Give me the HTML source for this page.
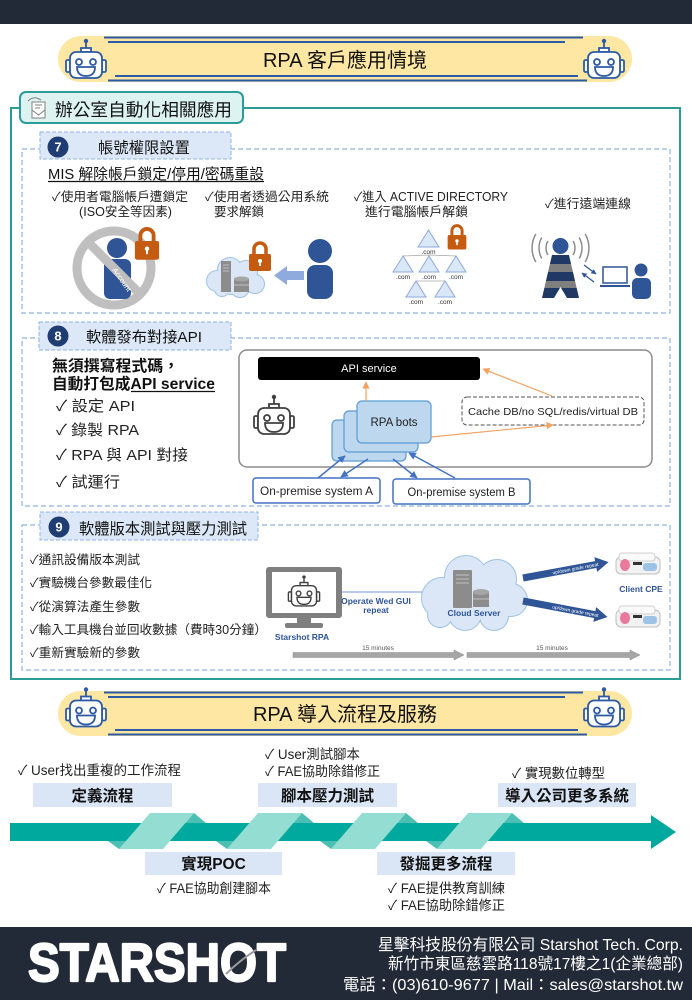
<!DOCTYPE html>
<html><head><meta charset="utf-8"><style>
html,body{margin:0;padding:0;background:#fff;}
svg{display:block;}
text{font-family:"Liberation Sans","Noto Sans CJK TC","DejaVu Sans",sans-serif;}
</style></head><body>
<svg xmlns="http://www.w3.org/2000/svg" xmlns:xlink="http://www.w3.org/1999/xlink" width="692" height="1000" viewBox="0 0 692 1000">
<defs>
<g id="robot" fill="none" stroke="currentColor" stroke-width="1.8">
 <line x1="0" y1="-16" x2="0" y2="-21"/>
 <circle cx="0" cy="-23" r="2.2" fill="currentColor" stroke="none"/>
 <rect x="-5" y="-16" width="10" height="4" fill="#fff"/>
 <rect x="-20" y="-4" width="4" height="12" rx="1.5" fill="#fff"/>
 <rect x="16" y="-4" width="4" height="12" rx="1.5" fill="#fff"/>
 <rect x="-16" y="-12" width="32" height="26" rx="6" fill="#fff"/>
 <circle cx="-7" cy="-2" r="3"/>
 <circle cx="7" cy="-2" r="3"/>
 <path d="M-9,3 H9 Q9,12 0,12 Q-9,12 -9,3Z" fill="#fff"/>
</g>
<g id="lock">
 <path d="M-6,1 V-5 A6,6 0 0 1 6,-5 V1" fill="none" stroke="#c55a11" stroke-width="3.5"/>
 <rect x="-11" y="0" width="22" height="17" rx="2" fill="#c55a11"/>
 <circle cx="0" cy="7" r="2" fill="#fff"/>
 <rect x="-0.9" y="7" width="1.8" height="5" fill="#fff"/>
</g>
<g id="cpe">
 <rect x="1" y="4" width="44" height="17" rx="5" fill="#f2f2f2" stroke="#bfbfbf"/>
 <rect x="4" y="0" width="36" height="8" rx="3" fill="#fafafa" stroke="#d0d0d0"/>
 <ellipse cx="10" cy="12" rx="5" ry="6" fill="#e9799d"/>
 <rect x="28" y="10" width="14" height="8" rx="3" fill="#9dc3e6"/>
 <rect x="18" y="9" width="9" height="3" fill="#333"/>
</g>
<marker id="ao" viewBox="0 0 10 10" refX="9" refY="5" markerWidth="6" markerHeight="6" orient="auto"><path d="M0,0 L10,5 L0,10z" fill="#f4a261"/></marker>
<marker id="ab" viewBox="0 0 10 10" refX="9" refY="5" markerWidth="5" markerHeight="5" orient="auto"><path d="M0,0 L10,5 L0,10z" fill="#4472c4"/></marker>
<marker id="an" viewBox="0 0 10 10" refX="9" refY="5" markerWidth="4" markerHeight="4" orient="auto"><path d="M0,0 L10,5 L0,10z" fill="#2f5597"/></marker>
<clipPath id="tw"><polygon points="552,255 569,255 579,298 542,298"/></clipPath>
</defs>

<rect x="0" y="0" width="692" height="24" fill="#232a37"/>

<rect x="58" y="36" width="574" height="46" rx="23" fill="#fde7a2"/>
<g stroke="#2d5aa5" stroke-width="2">
 <line x1="104" y1="37.5" x2="583" y2="37.5"/>
 <line x1="108" y1="42" x2="565" y2="42"/>
 <line x1="115" y1="76" x2="578" y2="76"/>
 <line x1="108" y1="80.5" x2="587" y2="80.5"/>
</g>
<use xlink:href="#robot" href="#robot" transform="translate(86,64)" style="color:#2d5aa5"/>
<use xlink:href="#robot" href="#robot" transform="translate(604,64)" style="color:#2d5aa5"/>
<text x="345" y="67" text-anchor="middle" font-size="20" fill="#111">RPA 客戶應用情境</text>

<rect x="11" y="108" width="669" height="571" fill="none" stroke="#2b9c96" stroke-width="2"/>
<rect x="20" y="92" width="223" height="31" rx="6" fill="#dcf3f2" stroke="#2b9c96" stroke-width="2"/>
<g fill="none" stroke="#7f7f7f" stroke-width="1">
 <rect x="32" y="102" width="13" height="16" fill="#fff"/>
 <path d="M32,110 L38.5,115 L45,110"/>
 <path d="M28,101 q4,-4 9,-3 l4,2" />
 <path d="M35,105 h7 M35,108 h5"/>
</g>
<text x="55" y="116" font-size="17.5" fill="#111" textLength="177" lengthAdjust="spacingAndGlyphs">辦公室自動化相關應用</text>

<rect x="22" y="149" width="648" height="164" fill="none" stroke="#8db4e3" stroke-width="1.2" stroke-dasharray="5 3"/>
<rect x="40" y="132" width="191" height="27" fill="#dce8f7" stroke="#8db4e3" stroke-dasharray="4 2"/>
<circle cx="58" cy="147" r="10.5" fill="#1f3c73"/>
<text x="58" y="151.5" text-anchor="middle" font-size="13" font-weight="bold" fill="#fff">7</text>
<text x="98" y="153" font-size="15.3" fill="#111" textLength="92" lengthAdjust="spacingAndGlyphs">帳號權限設置</text>

<text x="48" y="179" font-size="15" fill="#111" textLength="216" lengthAdjust="spacingAndGlyphs">MIS 解除帳戶鎖定/停用/密碼重設</text>
<line x1="48" y1="181.5" x2="264" y2="181.5" stroke="#111" stroke-width="1.2"/>

<g font-size="12.5" fill="#222">
 <text x="52" y="201" textLength="136" lengthAdjust="spacingAndGlyphs">✓使用者電腦帳戶遭鎖定</text>
 <text x="79" y="216" textLength="93" lengthAdjust="spacingAndGlyphs">(ISO安全等因素)</text>
 <text x="205" y="201" textLength="124" lengthAdjust="spacingAndGlyphs">✓使用者透過公用系統</text>
 <text x="214" y="216">要求解鎖</text>
 <text x="354" y="201" textLength="154" lengthAdjust="spacingAndGlyphs">✓進入 ACTIVE DIRECTORY</text>
 <text x="365" y="216" textLength="103" lengthAdjust="spacingAndGlyphs">進行電腦帳戶解鎖</text>
 <text x="545" y="208" textLength="86" lengthAdjust="spacingAndGlyphs">✓進行遠端連線</text>
</g>

<circle cx="114" cy="268" r="37" fill="none" stroke="#bfbfbf" stroke-width="9"/>
<circle cx="117" cy="248" r="10" fill="#2f5597"/>
<rect x="104" y="259" width="27" height="40" rx="6" fill="#2f5597"/>
<line x1="88" y1="242" x2="140" y2="294" stroke="#bfbfbf" stroke-width="9"/>
<text transform="translate(112,270) rotate(55)" font-size="7.5" fill="#fff">Account</text>
<use xlink:href="#lock" href="#lock" transform="translate(147,241) scale(1.1)"/>

<g fill="#dbe7f6" stroke="#9dc3e6" stroke-width="2">
 <circle cx="217" cy="281" r="10"/><circle cx="230" cy="270" r="12"/><circle cx="246" cy="272" r="11"/>
 <circle cx="255" cy="284" r="9"/><circle cx="240" cy="288" r="9"/><circle cx="222" cy="289" r="7"/><circle cx="232" cy="282" r="12"/>
</g>
<g fill="#dbe7f6">
 <circle cx="217" cy="281" r="10"/><circle cx="230" cy="270" r="12"/><circle cx="246" cy="272" r="11"/>
 <circle cx="255" cy="284" r="9"/><circle cx="240" cy="288" r="9"/><circle cx="222" cy="289" r="7"/><circle cx="232" cy="282" r="12"/>
</g>
<rect x="221" y="261" width="10" height="31" fill="#8c8c8c"/>
<g stroke="#bfbfbf" stroke-width="1"><line x1="223" y1="265" x2="229" y2="265"/><line x1="223" y1="268" x2="229" y2="268"/><line x1="223" y1="271" x2="229" y2="271"/></g>
<rect x="234" y="279" width="15" height="13" fill="#8c8c8c"/>
<ellipse cx="241.5" cy="279" rx="7.5" ry="2.5" fill="#a6a6a6"/>
<line x1="234" y1="285" x2="249" y2="285" stroke="#bfbfbf"/>
<use xlink:href="#lock" href="#lock" transform="translate(260,254)"/>
<polygon points="304,271 287,271 287,266 274,275.5 287,285 287,280 304,280" fill="#8faadc"/>
<circle cx="320" cy="251" r="12" fill="#2f5597"/>
<rect x="307" y="265" width="26" height="34" rx="8" fill="#2f5597"/>

<g stroke="#a6a6a6" stroke-width="0.8" fill="none">
 <path d="M428.5,255 L403,256 M428.5,255 L429,256 M428.5,255 L456,256"/>
 <path d="M429,281 L416,281 M429,281 L445,281"/>
</g>
<g fill="#dae7f6" stroke="#8faadc" stroke-width="1">
 <polygon points="428.5,230 418,247 439,247"/>
 <polygon points="403,256 393,272 413,272"/>
 <polygon points="429,256 419,272 439,272"/>
 <polygon points="456,256 446,272 466,272"/>
 <polygon points="416,281 406,297 426,297"/>
 <polygon points="445,281 435,297 455,297"/>
</g>
<g font-size="6.5" fill="#333" text-anchor="middle">
 <text x="428.5" y="254">.com</text>
 <text x="403" y="279">.com</text><text x="429" y="279">.com</text><text x="456" y="279">.com</text>
 <text x="416" y="304">.com</text><text x="445" y="304">.com</text>
</g>
<use xlink:href="#lock" href="#lock" transform="translate(457,235) scale(0.85)"/>

<g fill="none" stroke="#8c8c8c" stroke-width="1.5">
 <path d="M547.9,241 A14,14 0 0 0 547.9,255"/>
 <path d="M541.8,237.5 A21,21 0 0 0 541.8,258.5"/>
 <path d="M535.8,234 A28,28 0 0 0 535.8,262"/>
 <path d="M573.1,241 A14,14 0 0 1 573.1,255"/>
 <path d="M579.2,237.5 A21,21 0 0 1 579.2,258.5"/>
 <path d="M585.2,234 A28,28 0 0 1 585.2,262"/>
</g>
<g clip-path="url(#tw)">
 <rect x="540" y="255" width="42" height="9" fill="#203864"/>
 <rect x="540" y="264" width="42" height="8" fill="#7f7f7f"/>
 <rect x="540" y="272" width="42" height="9" fill="#203864"/>
 <rect x="540" y="281" width="42" height="7" fill="#7f7f7f"/>
 <rect x="540" y="288" width="42" height="10" fill="#203864"/>
</g>
<polygon points="560.5,287 554,298 567,298" fill="#fff"/>
<circle cx="560.5" cy="246" r="8" fill="#2f5597"/>
<line x1="584" y1="265" x2="596" y2="274" stroke="#2f5597" stroke-width="1.3" marker-end="url(#an)"/>
<line x1="594" y1="282" x2="582" y2="273" stroke="#2f5597" stroke-width="1.3" marker-end="url(#an)"/>
<rect x="603" y="267" width="24" height="16" fill="#fff" stroke="#2f5597" stroke-width="1.5"/>
<line x1="600" y1="286" x2="630" y2="286" stroke="#2f5597" stroke-width="2"/>
<circle cx="641" cy="270" r="6.5" fill="#2f5597"/>
<rect x="632" y="278" width="19" height="21" rx="5" fill="#2f5597"/>

<rect x="22" y="338" width="648" height="168" fill="none" stroke="#8db4e3" stroke-width="1.2" stroke-dasharray="5 3"/>
<rect x="39" y="322" width="192" height="28" fill="#dce8f7" stroke="#8db4e3" stroke-dasharray="4 2"/>
<circle cx="58" cy="336" r="10.5" fill="#1f3c73"/>
<text x="58" y="340.5" text-anchor="middle" font-size="13" font-weight="bold" fill="#fff">8</text>
<text x="86" y="342" font-size="15" fill="#111" textLength="116" lengthAdjust="spacingAndGlyphs">軟體發布對接API</text>

<text x="52" y="371" font-size="15.5" font-weight="bold" fill="#111" textLength="127" lengthAdjust="spacingAndGlyphs">無須撰寫程式碼，</text>
<text x="52" y="389" font-size="15.5" font-weight="bold" fill="#111" textLength="163" lengthAdjust="spacingAndGlyphs">自動打包成API service</text>
<line x1="131" y1="391.5" x2="215" y2="391.5" stroke="#111" stroke-width="1.2"/>
<g font-size="15" fill="#222">
 <text x="56" y="411" textLength="79" lengthAdjust="spacingAndGlyphs">✓ 設定 API</text>
 <text x="56" y="435" textLength="83" lengthAdjust="spacingAndGlyphs">✓ 錄製 RPA</text>
 <text x="56" y="460" textLength="132" lengthAdjust="spacingAndGlyphs">✓ RPA 與 API 對接</text>
 <text x="56" y="487" textLength="64" lengthAdjust="spacingAndGlyphs">✓ 試運行</text>
</g>

<rect x="239" y="350" width="413" height="117" rx="8" fill="#fff" stroke="#8c8c8c" stroke-width="1.5"/>
<rect x="258" y="357" width="222" height="23" rx="3" fill="#000"/>
<text x="369" y="372" text-anchor="middle" font-size="11" fill="#fff">API service</text>
<rect x="462" y="397" width="182" height="28" rx="5" fill="#fff" stroke="#555" stroke-dasharray="4 2"/>
<text x="468" y="415" font-size="10.5" fill="#222" textLength="170" lengthAdjust="spacingAndGlyphs">Cache DB/no SQL/redis/virtual DB</text>
<use xlink:href="#robot" href="#robot" transform="translate(274,420)" style="color:#404040"/>
<g fill="#bdd7ee" stroke="#5b9bd5" stroke-width="1.2">
 <rect x="332" y="420" width="74" height="41" rx="5"/>
 <rect x="344" y="411" width="74" height="41" rx="5"/>
 <rect x="357" y="401" width="74" height="42" rx="5"/>
</g>
<text x="394" y="426" text-anchor="middle" font-size="11.5" fill="#222">RPA bots</text>
<g stroke="#f4a261" stroke-width="1.2" fill="none">
 <line x1="366" y1="401" x2="366" y2="382" marker-end="url(#ao)"/>
 <line x1="552" y1="396" x2="483" y2="369" marker-end="url(#ao)"/>
 <line x1="431" y1="437" x2="553" y2="425" marker-end="url(#ao)"/>
</g>
<g stroke="#4472c4" stroke-width="1.5" fill="none">
 <line x1="318" y1="478" x2="345" y2="456" marker-end="url(#ab)"/>
 <line x1="368" y1="459" x2="341" y2="477" marker-end="url(#ab)"/>
 <line x1="393" y1="459" x2="417" y2="478" marker-end="url(#ab)"/>
 <line x1="455" y1="478" x2="409" y2="453" marker-end="url(#ab)"/>
</g>
<rect x="253" y="478" width="127" height="25" rx="3" fill="#fff" stroke="#4472c4" stroke-width="1.5"/>
<text x="316.5" y="495" text-anchor="middle" font-size="11.5" fill="#222" textLength="113" lengthAdjust="spacingAndGlyphs">On-premise system  A</text>
<rect x="393" y="479" width="137" height="25" rx="3" fill="#fff" stroke="#4472c4" stroke-width="1.5"/>
<text x="461.5" y="496" text-anchor="middle" font-size="11.5" fill="#222" textLength="108" lengthAdjust="spacingAndGlyphs">On-premise system B</text>

<rect x="22" y="525" width="648" height="145" fill="none" stroke="#8db4e3" stroke-width="1.2" stroke-dasharray="5 3"/>
<rect x="40" y="512" width="218" height="28" fill="#dce8f7" stroke="#8db4e3" stroke-dasharray="4 2"/>
<circle cx="59" cy="527" r="10.5" fill="#1f3c73"/>
<text x="59" y="531.5" text-anchor="middle" font-size="13" font-weight="bold" fill="#fff">9</text>
<text x="79" y="534" font-size="15.3" fill="#111" textLength="168" lengthAdjust="spacingAndGlyphs">軟體版本測試與壓力測試</text>

<g font-size="12.5" fill="#222">
 <text x="30" y="564" textLength="110" lengthAdjust="spacingAndGlyphs">✓通訊設備版本測試</text>
 <text x="30" y="587" textLength="122" lengthAdjust="spacingAndGlyphs">✓實驗機台參數最佳化</text>
 <text x="30" y="611" textLength="110" lengthAdjust="spacingAndGlyphs">✓從演算法產生參數</text>
 <text x="30" y="634" textLength="237" lengthAdjust="spacingAndGlyphs">✓輸入工具機台並回收數據（費時30分鐘）</text>
 <text x="30" y="657" textLength="110" lengthAdjust="spacingAndGlyphs">✓重新實驗新的參數</text>
</g>

<rect x="266" y="567" width="76" height="51" rx="3" fill="#7f7f7f"/>
<rect x="272" y="572" width="64" height="41" fill="#fff"/>
<rect x="297" y="617" width="14" height="7" fill="#7f7f7f"/>
<rect x="285" y="623" width="38" height="5" rx="2" fill="#7f7f7f"/>
<use xlink:href="#robot" href="#robot" transform="translate(304,595) scale(0.78)" style="color:#404040"/>
<text x="302" y="640" text-anchor="middle" font-size="8.5" font-weight="bold" fill="#2f5597">Starshot RPA</text>
<line x1="342" y1="592" x2="432" y2="592" stroke="#8faadc" stroke-width="1.3"/>
<circle cx="432" cy="592" r="2" fill="#4472c4"/>
<text x="376" y="604" text-anchor="middle" font-size="8.5" font-weight="bold" fill="#2f5597">Operate Wed GUI</text>
<text x="376" y="613" text-anchor="middle" font-size="8.5" font-weight="bold" fill="#2f5597">repeat</text>

<g fill="#dbe7f6" stroke="#9dc3e6" stroke-width="2">
 <circle cx="442" cy="598" r="20"/><circle cx="466" cy="577" r="21"/><circle cx="497" cy="579" r="19"/>
 <circle cx="511" cy="600" r="16"/><circle cx="494" cy="616" r="14"/><circle cx="465" cy="614" r="16"/>
 <circle cx="440" cy="615" r="12"/><circle cx="475" cy="596" r="22"/>
</g>
<g fill="#dbe7f6">
 <circle cx="442" cy="598" r="20"/><circle cx="466" cy="577" r="21"/><circle cx="497" cy="579" r="19"/>
 <circle cx="511" cy="600" r="16"/><circle cx="494" cy="616" r="14"/><circle cx="465" cy="614" r="16"/>
 <circle cx="440" cy="615" r="12"/><circle cx="475" cy="596" r="22"/>
</g>
<rect x="453" y="570" width="19" height="38" rx="1" fill="#8c8c8c"/>
<g stroke="#bfbfbf" stroke-width="1"><line x1="456" y1="575" x2="469" y2="575"/><line x1="456" y1="579" x2="469" y2="579"/><line x1="456" y1="583" x2="469" y2="583"/></g>
<rect x="473" y="592" width="16" height="15" fill="#8c8c8c"/>
<ellipse cx="481" cy="592" rx="8" ry="3" fill="#a6a6a6"/>
<line x1="473" y1="599" x2="489" y2="599" stroke="#bfbfbf"/>
<text x="474" y="616" text-anchor="middle" font-size="8.5" font-weight="bold" fill="#2f5597">Cloud Server</text>

<g transform="translate(523,578) rotate(-10.5)">
 <polygon points="0,-3.5 74,-3.5 74,-7.5 87,0 74,7.5 74,3.5 0,3.5" fill="#2f5597"/>
 <text x="30" y="1.8" font-size="4.8" fill="#fff">up/down grade repeat</text>
</g>
<g transform="translate(523,601) rotate(10.7)">
 <polygon points="0,-3.5 73,-3.5 73,-7.5 86,0 73,7.5 73,3.5 0,3.5" fill="#2f5597"/>
 <text x="30" y="1.8" font-size="4.8" fill="#fff">up/down grade repeat</text>
</g>
<use xlink:href="#cpe" href="#cpe" transform="translate(615,553)"/>
<use xlink:href="#cpe" href="#cpe" transform="translate(615,606)"/>
<text x="641" y="592" text-anchor="middle" font-size="8.5" font-weight="bold" fill="#2f5597">Client CPE</text>

<g fill="#a6a6a6" stroke="#8c8c8c" stroke-width="0.5">
 <polygon points="293,652.5 454,652.5 454,650 464,655 454,660 454,657.5 293,657.5"/>
 <polygon points="467,652.5 630,652.5 630,650 640,655 630,660 630,657.5 467,657.5"/>
</g>
<text x="378" y="650" text-anchor="middle" font-size="6.5" fill="#555">15 minutes</text>
<text x="552" y="650" text-anchor="middle" font-size="6.5" fill="#555">15 minutes</text>

<rect x="58" y="691" width="574" height="45" rx="22.5" fill="#fde7a2"/>
<g stroke="#2d5aa5" stroke-width="2">
 <line x1="104" y1="692.5" x2="583" y2="692.5"/>
 <line x1="108" y1="697" x2="565" y2="697"/>
 <line x1="115" y1="730" x2="578" y2="730"/>
 <line x1="108" y1="734.5" x2="587" y2="734.5"/>
</g>
<use xlink:href="#robot" href="#robot" transform="translate(86,712.5)" style="color:#2d5aa5"/>
<use xlink:href="#robot" href="#robot" transform="translate(604,712.5)" style="color:#2d5aa5"/>
<text x="345" y="721" text-anchor="middle" font-size="20" fill="#111">RPA 導入流程及服務</text>

<g font-size="13.5" fill="#222">
 <text x="18" y="775" textLength="163" lengthAdjust="spacingAndGlyphs">✓ User找出重複的工作流程</text>
 <text x="265" y="759" textLength="95" lengthAdjust="spacingAndGlyphs">✓ User測試腳本</text>
 <text x="265" y="776" textLength="115" lengthAdjust="spacingAndGlyphs">✓ FAE協助除錯修正</text>
 <text x="512" y="778" textLength="93" lengthAdjust="spacingAndGlyphs">✓ 實現數位轉型</text>
 <text x="157" y="893" textLength="114" lengthAdjust="spacingAndGlyphs">✓ FAE協助創建腳本</text>
 <text x="388" y="893" textLength="117" lengthAdjust="spacingAndGlyphs">✓ FAE提供教育訓練</text>
 <text x="388" y="910" textLength="117" lengthAdjust="spacingAndGlyphs">✓ FAE協助除錯修正</text>
</g>
<g fill="#dae6f6">
 <rect x="33" y="783" width="139" height="24"/>
 <rect x="258" y="783" width="139" height="24"/>
 <rect x="498" y="783" width="138" height="24"/>
 <rect x="145" y="852" width="137" height="23"/>
 <rect x="377" y="852" width="138" height="23"/>
</g>
<g font-size="15.5" font-weight="bold" fill="#111" text-anchor="middle">
 <text x="102.5" y="801">定義流程</text>
 <text x="327.5" y="801">腳本壓力測試</text>
 <text x="567" y="801">導入公司更多系統</text>
 <text x="213.5" y="869">實現POC</text>
 <text x="446" y="869">發掘更多流程</text>
</g>

<rect x="10" y="823" width="642" height="18" fill="#00a99d"/>
<polygon points="651,815 676,832 651,849" fill="#00a99d"/>
<g fill="#93ddd2">
 <polygon points="150,813 194,813 163,849 119,849"/>
 <polygon points="258,813 302,813 271,849 227,849"/>
 <polygon points="362,813 406,813 375,849 331,849"/>
 <polygon points="468,813 512,813 481,849 437,849"/>
</g>
<g fill="#4cbfb4">
 <polygon points="194,813 206,823 185.4,823"/>
 <polygon points="125.9,841 108,841 119,849"/>
 <polygon points="302,813 314,823 293.4,823"/>
 <polygon points="233.9,841 216,841 227,849"/>
 <polygon points="406,813 418,823 397.4,823"/>
 <polygon points="337.9,841 320,841 331,849"/>
 <polygon points="512,813 524,823 503.4,823"/>
 <polygon points="443.9,841 426,841 437,849"/>
</g>

<rect x="0" y="927" width="692" height="73" fill="#232a37"/>
<text x="28" y="981" font-size="54" font-weight="bold" fill="#fff" stroke="#fff" stroke-width="2.2" stroke-linejoin="round" textLength="258" lengthAdjust="spacingAndGlyphs">STARSHOT</text>
<path d="M226,974 Q240,960 256,950" fill="none" stroke="#9a9a9a" stroke-width="2"/>
<g font-size="16" fill="#fff" text-anchor="end">
 <text x="683" y="950" textLength="305" lengthAdjust="spacingAndGlyphs">星擊科技股份有限公司 Starshot Tech. Corp.</text>
 <text x="683" y="969" textLength="295" lengthAdjust="spacingAndGlyphs">新竹市東區慈雲路118號17樓之1(企業總部)</text>
 <text x="683" y="990" textLength="340" lengthAdjust="spacingAndGlyphs">電話：(03)610-9677 | Mail：sales@starshot.tw</text>
</g>
</svg>
</body></html>
